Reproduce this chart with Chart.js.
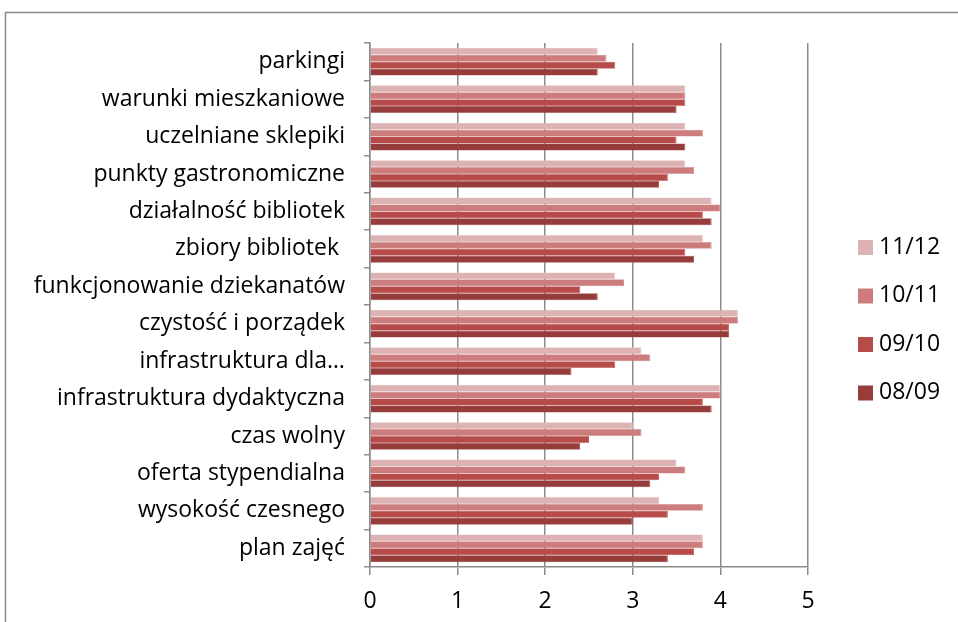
<!DOCTYPE html>
<html>
<head>
<meta charset="utf-8">
<script src="https://cdn.jsdelivr.net/npm/chart.js@4"></script>
<style>
  html, body { margin: 0; padding: 0; background: #fff; }
  #wrap { width: 958px; height: 622px; }
</style>
</head>
<body>
<div id="wrap"><canvas id="grap"></canvas></div>
<script>
const kategorie = [
    'parkingi',
    'warunki mieszkaniowe',
    'uczelniane sklepiki',
    'punkty gastronomiczne',
    'działalność bibliotek',
    'zbiory bibliotek ',
    'funkcjonowanie dziekanatów',
    'czystość i porządek',
    'infrastruktura dla…',
    'infrastruktura dydaktyczna',
    'czas wolny',
    'oferta stypendialna',
    'wysokość czesnego',
    'plan zajęć'
]

const lata = ['11/12', '10/11', '09/10', '08/09']

const r1112 = [2.6, 3.6, 3.6, 3.6, 3.9, 3.8, 2.8, 4.2, 3.1, 4.0, 3.0, 3.5, 3.3, 3.8]
const r1011 = [2.7, 3.6, 3.8, 3.7, 4.0, 3.9, 2.9, 4.2, 3.2, 4.0, 3.1, 3.6, 3.8, 3.8]
const r0910 = [2.8, 3.6, 3.5, 3.4, 3.8, 3.6, 2.4, 4.1, 2.8, 3.8, 2.5, 3.3, 3.4, 3.7]
const r0809 = [2.6, 3.5, 3.6, 3.3, 3.9, 3.7, 2.6, 4.1, 2.3, 3.9, 2.4, 3.2, 3.0, 3.4]

const osX = [0, 1, 2, 3, 4, 5]

const kolory = ['#DDB2B2', '#CC7C7C', '#B74B4A', '#963D3C']
const ramki = ['#E6C4C4', '#D59191', '#C26160', '#A34E4D']
const czcionka = '"Open Sans", "Noto Sans", sans-serif'

// ramka wokol calego wykresu + legenda po prawej
const ramka = {
    id: 'ramka',
    beforeDraw(chart) {
        const c = chart.ctx
        c.save()
        c.strokeStyle = '#8c8c8c'
        c.lineWidth = 1.5
        c.strokeRect(5.5, 12.5, 1000, 1000)
        c.restore()
    },
    afterDraw(chart) {
        const c = chart.ctx
        c.save()
        c.font = '23px ' + czcionka
        c.textBaseline = 'middle'
        chart.data.datasets.forEach((ds, i) => {
            const y = 247 + i * 48.5
            c.fillStyle = ds.backgroundColor
            c.fillRect(858, y - 7, 15, 15)
            c.fillStyle = '#000'
            c.fillText(ds.label, 879, y)
        })
        c.restore()
    }
}

function criarGraf() {
    const ctx = document.getElementById('grap').getContext('2d')
    const serie = [r1112, r1011, r0910, r0809]

    new Chart(ctx, {
        type: 'bar',
        data: {
            labels: kategorie,
            datasets: serie.map((d, i) => ({
                label: lata[i],
                data: d,
                backgroundColor: kolory[i],
                borderColor: ramki[i],
                borderWidth: {top: 0.5, bottom: 0.5, right: 1, left: 0},
                categoryPercentage: 0.74,
                barPercentage: 1
            }))
        },
        options: {
            indexAxis: 'y',
            responsive: true,
            maintainAspectRatio: false,
            animation: false,
            layout: {
                padding: {top: 43, right: 150, left: 0, bottom: 0}
            },
            plugins: {
                legend: {display: false},
                tooltip: {enabled: false}
            },
            scales: {
                x: {
                    min: 0,
                    max: 5,
                    afterBuildTicks: (s) => { s.ticks = osX.map(v => ({value: v})) },
                    afterFit: (s) => { s.height = 55 },
                    grid: {
                        color: '#8c8c8c',
                        lineWidth: 1.5,
                        tickLength: 8
                    },
                    border: {display: true, color: '#8c8c8c', width: 1.5},
                    ticks: {
                        color: '#000',
                        padding: 13,
                        font: {family: czcionka, size: 23}
                    }
                },
                y: {
                    afterFit: (s) => { s.width = 370 },
                    grid: {
                        offset: true,
                        drawOnChartArea: false,
                        color: '#8c8c8c',
                        lineWidth: 1.5,
                        tickLength: 6
                    },
                    border: {display: true, color: '#8c8c8c', width: 1.5},
                    ticks: {
                        color: '#000',
                        padding: 19,
                        autoSkip: false,
                        font: {family: czcionka, size: 23}
                    }
                }
            }
        },
        plugins: [ramka]
    })
}

criarGraf()
</script>
</body>
</html>
